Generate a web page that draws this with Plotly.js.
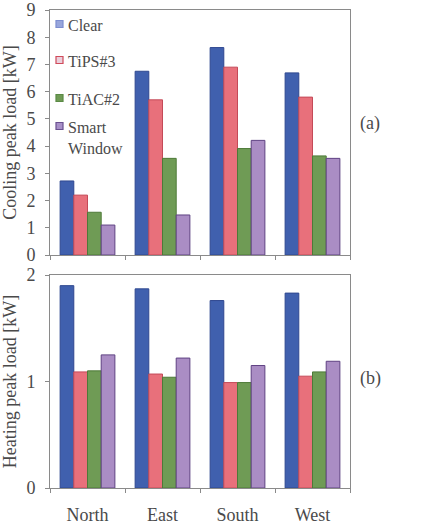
<!DOCTYPE html>
<html>
<head>
<meta charset="utf-8">
<script src="https://cdn.plot.ly/plotly-3.0.1.min.js"></script>
<style>
  html, body { margin: 0; padding: 0; background: #fff; }
  #chart { width: 431px; height: 528px; }
</style>
</head>
<body>
<div id="chart"></div>
<script>
// Facade orientations
const orientations = ['North', 'East', 'South', 'West'];

// Glazing options
const glazings = ['Clear', 'TiPS#3', 'TiAC#2', 'Smart<br>Window'];

// Cooling peak load [kW] per glazing, ordered North, East, South, West
const coolClear = [2.72, 6.75, 7.62, 6.69];
const coolTiPS  = [2.20, 5.70, 6.90, 5.80];
const coolTiAC  = [1.57, 3.55, 3.91, 3.64];
const coolSmart = [1.10, 1.47, 4.21, 3.55];

// Heating peak load [kW] per glazing, ordered North, East, South, West
const heatClear = [1.90, 1.87, 1.76, 1.83];
const heatTiPS  = [1.09, 1.07, 0.99, 1.05];
const heatTiAC  = [1.10, 1.04, 0.99, 1.09];
const heatSmart = [1.25, 1.22, 1.15, 1.19];

const fills   = ['#4060ae', '#e8707b', '#6f9b55', '#aa8dc4'];
const borders = ['#2f4890', '#c44a58', '#4d7a38', '#5f4283'];
// Key swatches
const keyFills   = ['#98a6dc', '#ead0dc', '#6f9b55', '#a890c8'];
const keyBorders = ['#7d8ed0', '#d04a5a', '#5a8a45', '#6a5090'];

const coolSeries = [coolClear, coolTiPS, coolTiAC, coolSmart];
const heatSeries = [heatClear, heatTiPS, heatTiAC, heatSmart];

const serif = 'Liberation Serif, Times New Roman, serif';
const ink = '#4a4a4a';

// Plot area in pixels (for placing the key inside the upper panel)
const W = 431, H = 528;
const M = { l: 50, r: 81, t: 10, b: 40 };
const plotW = W - M.l - M.r, plotH = H - M.t - M.b;
const px = x => (x - M.l) / plotW;
const py = y => (H - M.b - y) / plotH;

const traces = [];
coolSeries.forEach((vals, i) => {
  traces.push({
    type: 'bar', x: orientations, y: vals, name: glazings[i],
    xaxis: 'x', yaxis: 'y', showlegend: false,
    marker: { color: fills[i], line: { color: borders[i], width: 1 } },
    hoverinfo: 'y'
  });
});
heatSeries.forEach((vals, i) => {
  traces.push({
    type: 'bar', x: orientations, y: vals, name: glazings[i],
    xaxis: 'x2', yaxis: 'y2', showlegend: false,
    marker: { color: fills[i], line: { color: borders[i], width: 1 } },
    hoverinfo: 'y'
  });
});

// Key: swatch centres (y, px) and text
const keyY = [24, 60, 98, 126];
const shapes = [];
const annotations = [];
glazings.forEach((g, i) => {
  shapes.push({
    type: 'rect', xref: 'paper', yref: 'paper',
    x0: px(56), x1: px(63), y0: py(keyY[i] + 3.5), y1: py(keyY[i] - 3.5),
    fillcolor: keyFills[i], line: { color: keyBorders[i], width: 1.2 }
  });
  annotations.push({
    text: g, xref: 'paper', yref: 'paper', x: px(66), y: py(keyY[i] - 9),
    xanchor: 'left', yanchor: 'top', align: 'left', showarrow: false,
    font: { family: serif, size: 16, color: ink }
  });
});

annotations.push(
  { text: '(a)', xref: 'paper', yref: 'paper', x: px(370), y: py(123), xanchor: 'center', yanchor: 'middle',
    showarrow: false, font: { family: serif, size: 18, color: ink } },
  { text: '(b)', xref: 'paper', yref: 'paper', x: px(370), y: py(378), xanchor: 'center', yanchor: 'middle',
    showarrow: false, font: { family: serif, size: 18, color: ink } }
);

const frame = {
  showline: true, linecolor: '#8a8a8a', linewidth: 1, mirror: true,
  showgrid: false, zeroline: false
};

const layout = {
  width: W, height: H,
  margin: M,
  paper_bgcolor: '#fff', plot_bgcolor: '#fff',
  font: { family: serif, color: ink, size: 18 },
  barmode: 'group', bargap: 0.27, bargroupgap: 0,
  showlegend: false,
  xaxis: Object.assign({}, frame, {
    domain: [0, 1], anchor: 'y', type: 'category',
    showticklabels: false, ticks: 'outside', tickson: 'boundaries',
    ticklen: 4, tickcolor: '#8a8a8a'
  }),
  yaxis: Object.assign({}, frame, {
    domain: [py(255), 1], anchor: 'x', range: [0, 9], dtick: 1,
    ticks: 'outside', ticklen: 4, tickcolor: '#8a8a8a',
    tickfont: { family: serif, size: 18, color: ink },
    ticklabelstandoff: 6, ticklabeloverflow: 'allow',
    title: { text: 'Cooling peak load [kW]', font: { family: serif, size: 18, color: ink }, standoff: 6 }
  }),
  xaxis2: Object.assign({}, frame, {
    domain: [0, 1], anchor: 'y2', type: 'category',
    ticks: 'outside', tickson: 'boundaries', ticklen: 4, tickcolor: '#8a8a8a',
    tickfont: { family: serif, size: 18, color: ink },
    ticklabelstandoff: 10
  }),
  yaxis2: Object.assign({}, frame, {
    domain: [0, py(275)], anchor: 'x2', range: [0, 2], dtick: 1,
    ticks: 'outside', ticklen: 4, tickcolor: '#8a8a8a',
    tickfont: { family: serif, size: 18, color: ink },
    ticklabelstandoff: 6, ticklabeloverflow: 'allow',
    title: { text: 'Heating peak load [kW]', font: { family: serif, size: 18, color: ink }, standoff: 6 }
  }),
  shapes: shapes,
  annotations: annotations
};

Plotly.newPlot('chart', traces, layout, { displayModeBar: false, staticPlot: true });
</script>
</body>
</html>
